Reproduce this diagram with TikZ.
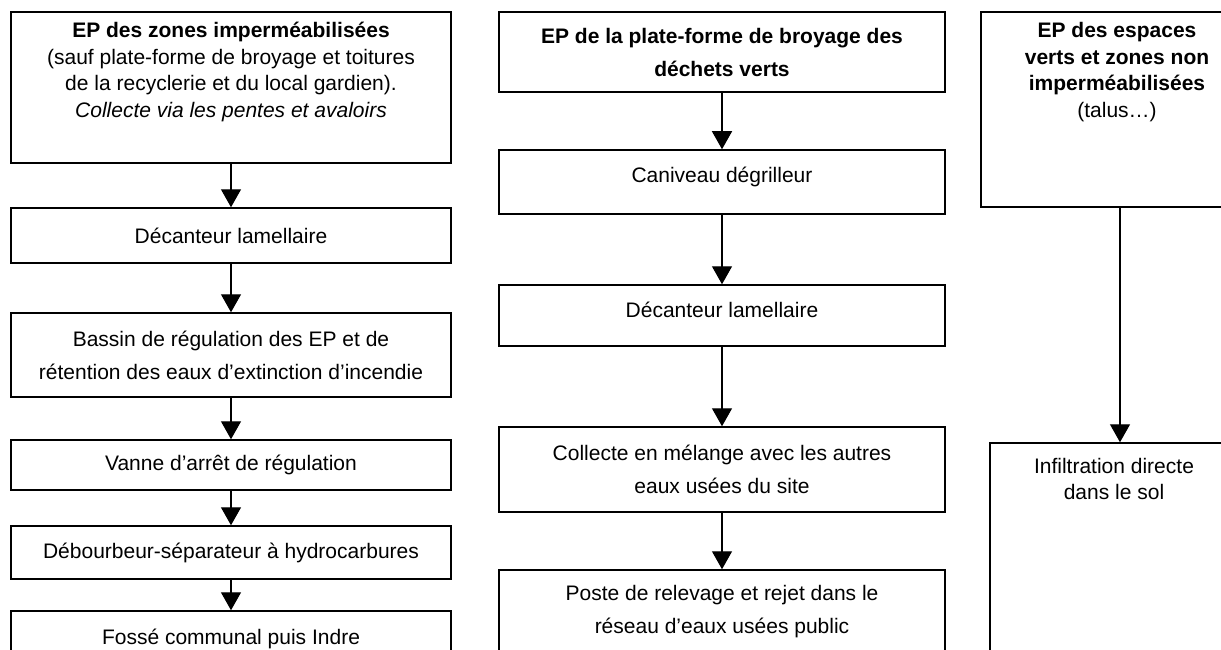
\documentclass[tikz,border=0pt]{standalone}
\usepackage{fontspec}
\setmainfont{Liberation Sans}
\usepackage{tikz}
\usetikzlibrary{calc, arrows.meta, positioning}
\tikzset{
    shapenode/.style = {draw, rectangle, fill=none, line width=1.5pt, inner sep=0pt, node distance=0em},
    boxnode/.style = {shapenode, align=center, font=\fontsize{21}{33}\selectfont},
    textnode/.style = {draw=none, fill=none, rectangle, inner sep=0pt, align=center, 
      font=\fontsize{21}{26.5}\selectfont},
    connect/.style = {black, line width=1.4pt, -{Triangle[width=20pt, length=18pt]}}
}

\begin{document}
\begin{tikzpicture}
    \useasboundingbox (0pt,0pt) rectangle (1221pt,-650pt);
    \clip (0pt,0pt) rectangle (1221pt,-650pt);

    % zones impermeabilisees
    \node [shapenode, name=Zones, minimum width=440pt, minimum height=151pt] at (231pt,-87.5pt) {};
    \node [textnode, name=ZonesText, anchor=north, yshift=-11pt] at (Zones.north) {\textbf{EP des zones imperméabilisées}\\(sauf plate-forme de broyage et toitures\\de la recyclerie et du local gardien).\\\textit{Collecte via les pentes et avaloirs}};
    \node [boxnode, name=Decanteur, below of=Zones, yshift=-148pt, minimum width=440pt, minimum height=55pt] {Décanteur lamellaire};
    \node [boxnode, name=Bassin, below of=Decanteur, yshift=-119.5pt, minimum width=440pt, minimum height=84pt] {Bassin de régulation des EP et de\\rétention des eaux d’extinction d’incendie};
    \node [boxnode, name=Vanne, below of=Bassin, yshift=-110pt, minimum width=440pt, minimum height=50pt] {Vanne d’arrêt de régulation};
    \node [boxnode, name=Separateur, below of=Vanne, yshift=-87.5pt, minimum width=440pt, minimum height=53pt] {Débourbeur-séparateur à hydrocarbures};
    \node [boxnode, name=Fosse, below of=Separateur, yshift=-86.5pt, minimum width=440pt, minimum height=56pt] {Fossé communal puis Indre};
    \draw (Zones) edge[connect] (Decanteur);
    \draw (Decanteur) edge[connect] (Bassin);
    \draw (Bassin) edge[connect] (Vanne);
    \draw (Vanne) edge[connect] (Separateur);
    \draw (Separateur) edge[connect] (Fosse);

    % plate-forme de broyage
    \node [boxnode, name=Broyage, minimum width=446pt, minimum height=80pt] at (722pt,-52pt) {\textbf{EP de la plate-forme de broyage des}\\\textbf{déchets verts}};
    \node [boxnode, name=Caniveau, below of=Broyage, yshift=-130pt, minimum width=446pt, minimum height=64pt, text depth=15pt] {Caniveau dégrilleur};
    \node [boxnode, name=Decanteur2, below of=Caniveau, yshift=-133.5pt, minimum width=446pt, minimum height=61pt, text depth=11pt] {Décanteur lamellaire};
    \node [boxnode, name=Collecte, below of=Decanteur2, yshift=-154pt, minimum width=446pt, minimum height=85pt] {Collecte en mélange avec les autres\\eaux usées du site};
    \node [boxnode, name=Poste, below of=Collecte, yshift=-142pt, minimum width=446pt, minimum height=83pt] {Poste de relevage et rejet dans le\\réseau d’eaux usées public};
    \draw (Broyage) edge[connect] (Caniveau);
    \draw (Caniveau) edge[connect] (Decanteur2);
    \draw (Decanteur2) edge[connect] (Collecte);
    \draw (Collecte) edge[connect] (Poste);

    % espaces verts
    \node [shapenode, name=Espaces, minimum width=278pt, minimum height=195pt] at (1120pt,-109.5pt) {};
    \node [textnode, name=EspacesText, anchor=north, yshift=-11pt, xshift=-3pt] at (Espaces.north) {\textbf{EP des espaces}\\\textbf{verts et zones non}\\\textbf{imperméabilisées}\\(talus…)};
    \node [shapenode, name=Infiltration, below of=Espaces, yshift=-443.5pt, minimum width=260pt, minimum height=220pt] {};
    \node [textnode, name=InfiltrationText, anchor=north, yshift=-15.5pt, xshift=-6pt] at (Infiltration.north) {Infiltration directe\\dans le sol};
    \draw (Espaces) edge[connect] (Infiltration);
\end{tikzpicture}
\end{document}
